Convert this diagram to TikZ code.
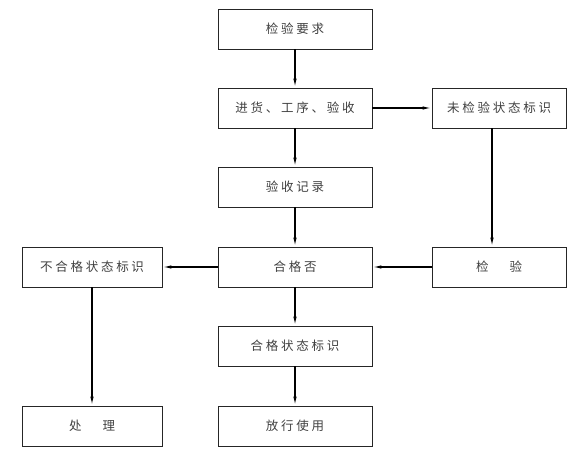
\documentclass[tikz,border=0pt]{standalone}
\usepackage{fontspec}
\usepackage{tikz}
\usetikzlibrary{arrows.meta}
\newfontfamily\cjk[LetterSpace=22]{Noto Sans CJK SC}

\begin{document}
\begin{tikzpicture}[x=1pt,y=1pt,
	box/.style={shape=rectangle,draw=black!85,line width=0.9pt,minimum width=154pt,minimum height=40pt,inner sep=0pt,font=\cjk\fontsize{12.5}{14}\selectfont,text=black!75},
	sidebox/.style={box,minimum width=134pt},
	leftbox/.style={box,minimum width=140pt},
	arr/.style={line width=1.3pt,-{Latex[length=9pt,width=3.5pt]}}]
	
	\useasboundingbox (0,0) rectangle (576,456);
	
	\node[box]      (req)     at (295, 427)   {检验要求};
	\node[box]      (recv)    at (295, 348)   {进货、工序、验收};
	\node[sidebox]  (unins)   at (499, 348)   {未检验状态标识};
	\node[box]      (record)  at (295, 269)   {验收记录};
	\node[leftbox]  (nonconf) at (92, 189)    {不合格状态标识};
	\node[box]      (ok)      at (295, 189)   {合格否};
	\node[sidebox]  (insp)    at (499, 189)   {检\hspace{21pt}验};
	\node[box]      (conf)    at (295, 110)   {合格状态标识};
	\node[leftbox]  (dispose) at (92, 30)     {处\hspace{21pt}理};
	\node[box]      (release) at (295, 30)    {放行使用};
	\path[arr] (req)     edge (recv);
	\path[arr] (recv)    edge (unins);
	\path[arr] (recv)    edge (record);
	\path[arr] (record)  edge (ok);
	\path[arr] ([xshift=-7pt]unins.south) edge ([xshift=-7pt]insp.north);
	\path[arr] (insp)    edge (ok);
	\path[arr] (ok)      edge (nonconf);
	\path[arr] (ok)      edge (conf);
	\path[arr] (nonconf) edge (dispose);
	\path[arr] (conf)    edge (release);
	
\end{tikzpicture}
\end{document}
